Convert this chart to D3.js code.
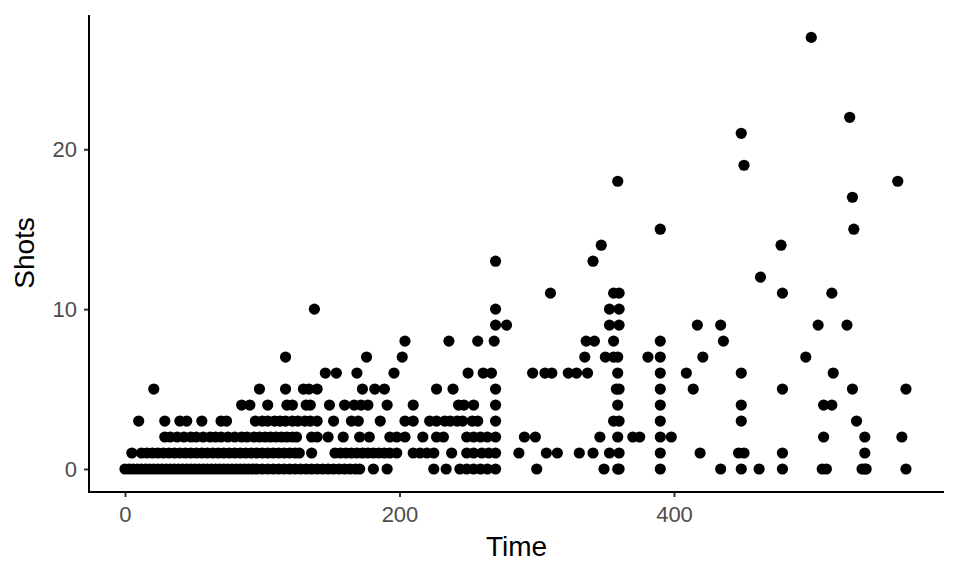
<!DOCTYPE html>
<html>
<head>
<meta charset="utf-8">
<script src="https://cdn.jsdelivr.net/npm/d3@7"></script>
<style>
  body { margin: 0; background: #fff; }
  svg { display: block; }
</style>
</head>
<body>
<svg id="chart" width="960" height="576"></svg>
<script>
// Data: [time, shots]
const points = [
  // shots = 0
  [0,0],[3,0],[6,0],[9,0],[12,0],[15,0],[18,0],[21,0],[24,0],[27,0],[30,0],[33,0],[36,0],[39,0],[42,0],[45,0],[48,0],[51,0],[54,0],[57,0],[60,0],[63,0],[66,0],[69,0],[72,0],[75,0],[78,0],[81,0],[84,0],[87,0],[90,0],[93,0],[96,0],
  [100,0],[104,0],[108,0],[112,0],[116,0],[120,0],[124,0],[128,0],[132,0],[136,0],[140,0],[144,0],[148,0],[152,0],[156,0],[160,0],[164,0],[168,0],[171,0],[181,0],[191,0],
  [225,0],[234,0],[244,0],[249,0],[254,0],[259,0],[264,0],[270,0],[300,0],[349,0],[359,0],[360,0],[390,0],[434,0],[449,0],[462,0],[479,0],[508,0],[511,0],[537,0],[539,0],[540,0],[569,0],
  // shots = 1
  [5,1],[12,1],[16,1],[20,1],[24,1],[28,1],[32,1],[36,1],[40,1],[44,1],[48,1],[52,1],[56,1],[60,1],[64,1],[68,1],[72,1],[76,1],[80,1],[84,1],[88,1],[92,1],[96,1],[100,1],[104,1],[108,1],[112,1],[116,1],[120,1],[124,1],[127,1],
  [136,1],[153,1],[157,1],[161,1],[165,1],[169,1],[173,1],[177,1],[181,1],[185,1],[189,1],[193,1],[198,1],[210,1],[215,1],[220,1],[225,1],[238,1],[249,1],[254,1],[260,1],[265,1],[270,1],
  [287,1],[307,1],[315,1],[331,1],[341,1],[353,1],[360,1],[390,1],[419,1],[447,1],[451,1],[479,1],[539,1],
  // shots = 2
  [29,2],[33,2],[38,2],[43,2],[48,2],[52,2],[57,2],[62,2],[66,2],[70,2],[75,2],[80,2],[85,2],[89,2],[94,2],[98,2],[102,2],[106,2],[110,2],[114,2],[118,2],[122,2],[125,2],
  [136,2],[140,2],[148,2],[159,2],[171,2],[178,2],[193,2],[198,2],[204,2],[217,2],[227,2],[232,2],[249,2],[254,2],[259,2],[264,2],[270,2],
  [291,2],[299,2],[346,2],[359,2],[370,2],[375,2],[390,2],[398,2],[509,2],[539,2],[566,2],
  // shots = 3
  [10,3],[29,3],[40,3],[45,3],[56,3],[70,3],[74,3],[95,3],[100,3],[104,3],[109,3],[113,3],[117,3],[122,3],[126,3],[131,3],[135,3],[140,3],
  [152,3],[165,3],[170,3],[186,3],[204,3],[210,3],[222,3],[227,3],[233,3],[237,3],[242,3],[246,3],[253,3],[257,3],[270,3],
  [356,3],[360,3],[390,3],[449,3],[533,3],
  // shots = 4
  [85,4],[91,4],[104,4],[118,4],[122,4],[132,4],[135,4],[149,4],[160,4],[167,4],[172,4],[177,4],[191,4],[210,4],[243,4],[247,4],[254,4],[270,4],
  [359,4],[390,4],[449,4],[509,4],[515,4],
  // shots = 5
  [21,5],[98,5],[117,5],[130,5],[134,5],[140,5],[173,5],[182,5],[189,5],[227,5],[239,5],[270,5],[358,5],[360,5],[390,5],[414,5],[479,5],[530,5],[569,5],
  // shots = 6
  [146,6],[154,6],[169,6],[196,6],[250,6],[261,6],[267,6],[297,6],[306,6],[311,6],[323,6],[329,6],[337,6],[359,6],[390,6],[409,6],[449,6],[516,6],
  // shots = 7
  [117,7],[176,7],[202,7],[335,7],[350,7],[356,7],[359,7],[381,7],[390,7],[421,7],[496,7],
  // shots = 8
  [204,8],[236,8],[257,8],[269,8],[336,8],[342,8],[356,8],[390,8],[436,8],
  // shots = 9
  [270,9],[278,9],[353,9],[360,9],[417,9],[434,9],[505,9],[526,9],
  // shots = 10
  [138,10],[270,10],[353,10],[360,10],
  // shots = 11
  [310,11],[356,11],[360,11],[479,11],[515,11],
  // higher
  [463,12],[270,13],[341,13],[347,14],[478,14],[390,15],[531,15],[530,17],[359,18],[563,18],[451,19],[449,21],[528,22],[500,27]
];
const xTicks = [0, 200, 400];
const yTicks = [0, 10, 20];
const xTitle = "Time";
const yTitle = "Shots";

(function () {
  const svg = d3.select("#chart");
  const mLeft = 89, mRight = 944, mTop = 15, mBottom = 492;

  const x = d3.scaleLinear().domain([-26.2, 596.7]).range([mLeft, mRight]);
  const y = d3.scaleLinear().domain([-1.44, 28.4]).range([mBottom, mTop]);

  const font = "'Liberation Sans', Arial, Helvetica, sans-serif";

  // points
  svg.append("g")
    .selectAll("circle")
    .data(points)
    .join("circle")
    .attr("cx", d => x(d[0]))
    .attr("cy", d => y(d[1]))
    .attr("r", 5.6)
    .attr("fill", "#000");

  // axes
  const xAxis = svg.append("g")
    .attr("transform", `translate(0,${mBottom})`)
    .call(d3.axisBottom(x).tickValues(xTicks).tickSize(5).tickPadding(9.5).tickFormat(d3.format("d")));
  const yAxis = svg.append("g")
    .attr("transform", `translate(${mLeft},0)`)
    .call(d3.axisLeft(y).tickValues(yTicks).tickSize(5).tickPadding(7).tickFormat(d3.format("d")));

  [xAxis, yAxis].forEach(g => {
    g.select(".domain").remove();
    g.selectAll(".tick line").attr("stroke", "#333").attr("stroke-width", 2);
    g.selectAll(".tick text")
      .attr("fill", "#4d4d4d")
      .style("font-family", font)
      .style("font-size", "22px");
  });

  // axis lines
  svg.append("line")
    .attr("x1", mLeft).attr("x2", mLeft)
    .attr("y1", mTop).attr("y2", mBottom + 1)
    .attr("stroke", "#000").attr("stroke-width", 2);
  svg.append("line")
    .attr("x1", mLeft - 1).attr("x2", mRight)
    .attr("y1", mBottom).attr("y2", mBottom)
    .attr("stroke", "#000").attr("stroke-width", 2);

  // titles
  svg.append("text")
    .attr("x", (mLeft + mRight) / 2)
    .attr("y", 556)
    .attr("text-anchor", "middle")
    .style("font-family", font)
    .style("font-size", "28px")
    .attr("fill", "#000")
    .text(xTitle);

  svg.append("text")
    .attr("transform", `translate(34,253) rotate(-90)`)
    .attr("text-anchor", "middle")
    .style("font-family", font)
    .style("font-size", "28px")
    .attr("fill", "#000")
    .text(yTitle);
})();
</script>
</body>
</html>
